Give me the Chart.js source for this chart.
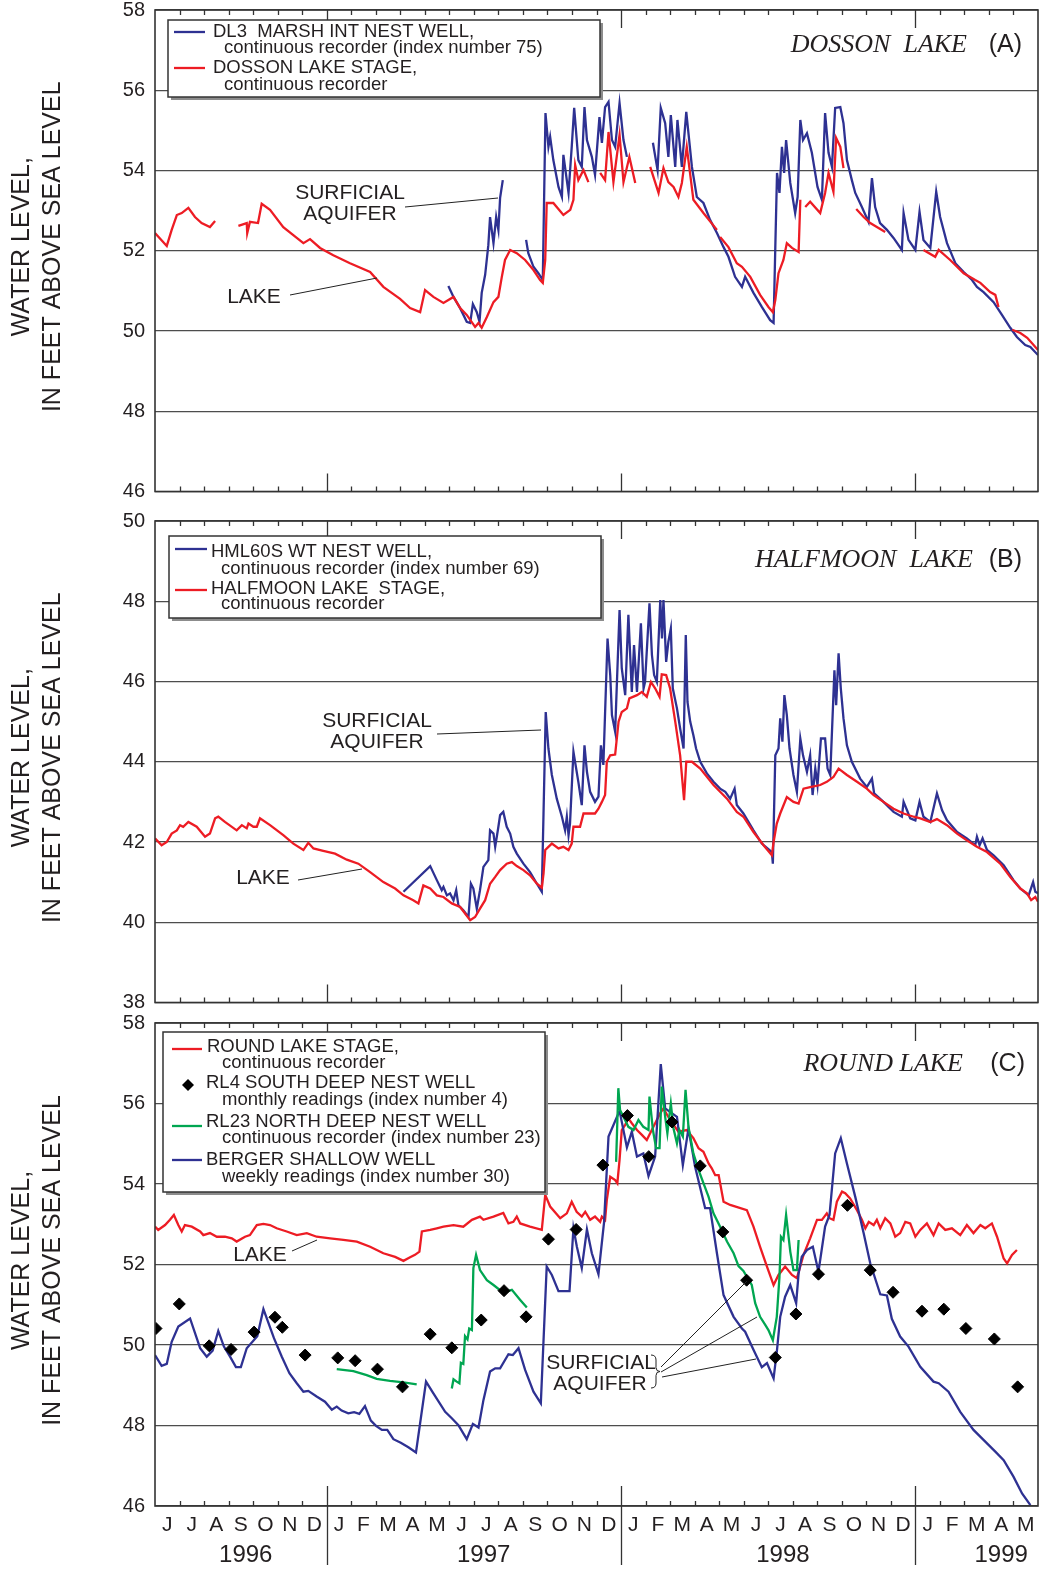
<!DOCTYPE html>
<html>
<head>
<meta charset="utf-8">
<script src="https://cdn.jsdelivr.net/npm/chart.js@4.4.1/dist/chart.umd.min.js"></script>
<style>
html,body{margin:0;padding:0;background:#fff;}
#wrap{position:relative;width:1042px;height:1570px;overflow:hidden;}
#wrap canvas{position:absolute;left:0;}
</style>
</head>
<body>
<div id="wrap">
  <canvas id="cA" width="1042" height="510" style="top:0px"></canvas>
  <canvas id="cB" width="1042" height="520" style="top:500px"></canvas>
  <canvas id="cC" width="1042" height="565" style="top:1005px"></canvas>
</div>
<script>
// ---------------- DATA (x = months since 1 June 1996, y = feet above sea level) ----------------
const monthLetters = ['J','J','A','S','O','N','D','J','F','M','A','M','J','J','A','S','O','N','D','J','F','M','A','M','J','J','A','S','O','N','D','J','F','M','A','M'];
const yearLabels = ['1996','1997','1998','1999'];
const yearLabelPos = [3.7, 13.4, 25.6, 34.5];
const yearBoundaries = [7, 19, 31];

// Panel A - Dosson Lake
const dossonLake = [
[0,52.44],[0.48,52.12],[0.68,52.52],[0.89,52.89],[1.09,52.94],[1.36,53.07],[1.63,52.84],[1.90,52.69],[2.24,52.59],[2.45,52.74],null,
[3.40,52.62],[3.74,52.69],[3.76,52.44],[3.87,52.72],[4.20,52.69],[4.35,53.17],[4.69,53.02],[5.23,52.59],[5.78,52.32],[6.05,52.19],[6.32,52.29],[6.73,52.07],[7.27,51.89],[7.95,51.69],[8.77,51.47],[9.31,51.10],[9.99,50.80],[10.40,50.57],[10.81,50.47],[11.01,51.02],[11.35,50.85],[11.76,50.70],[12.17,50.85],[12.44,50.57],[12.71,50.40],[13.05,50.10],[13.19,50.20],[13.32,50.08],[13.53,50.35],[13.80,50.72],[14.00,50.85],[14.14,51.35],[14.27,51.77],[14.48,52.02],[14.75,51.94],[15.09,51.77],[15.43,51.52],[15.70,51.27],[15.81,51.20],[15.91,51.77],[15.97,53.19],[16.24,53.19],[16.65,52.89],[16.93,53.02],[17.06,53.27],[17.13,54.14],[17.26,53.76],[17.47,54.01],[17.67,53.71],null,
[18.15,53.94],[18.35,53.76],[18.49,54.96],[18.69,53.71],[18.94,54.89],[19.10,53.71],[19.34,54.34],[19.58,53.69],null,
[20.19,54.09],[20.53,53.44],[20.73,54.06],[20.93,53.71],[21.14,53.59],[21.34,53.34],[21.48,53.69],[21.68,54.59],[21.95,53.27],[22.36,52.94],[22.91,52.52],null,
[23.04,52.34],[23.38,52.09],[23.72,51.69],[23.93,51.60],[24.27,51.35],[24.67,50.90],[25.01,50.60],[25.19,50.47],[25.29,50.77],[25.42,51.44],[25.62,51.77],[25.76,52.19],[25.97,52.07],[26.24,51.97],[26.31,53.27],null,
[26.51,53.09],[26.71,53.22],[27.12,52.94],[27.32,53.44],[27.46,53.94],[27.66,53.47],[27.77,54.81],[27.94,54.59],[28.07,54.06],null,
[28.59,53.04],[28.89,52.84],[29.16,52.69],[29.43,52.59],[29.77,52.47],null,
[31.33,52.02],[31.81,51.85],[31.95,52.02],[32.42,51.77],[32.97,51.44],[33.44,51.27],[33.65,51.20],[34.05,50.97],[34.26,50.90],[34.39,50.60],null,
[34.95,50.03],[35.28,49.95],[35.56,49.83],[36.0,49.53]
];
const dossonWell = [
[11.96,51.12],[12.17,50.85],[12.44,50.57],[12.71,50.23],[12.85,50.20],[12.96,50.67],[13.12,50.47],[13.23,50.23],[13.32,50.95],[13.46,51.40],[13.59,52.14],[13.66,52.84],[13.80,52.19],[13.91,52.84],[14.00,52.52],[14.07,53.32],[14.18,53.76],null,
[15.13,52.27],[15.22,51.94],[15.43,51.60],[15.63,51.44],[15.81,51.27],[15.92,55.43],[16.04,54.59],[16.11,54.84],[16.24,54.26],[16.45,53.59],[16.59,53.34],[16.65,54.39],[16.86,53.44],[16.99,54.59],[17.09,55.56],[17.26,54.26],[17.40,54.09],[17.51,55.58],[17.61,54.76],[17.81,54.34],[17.94,53.89],[18.12,55.33],[18.22,54.69],[18.35,55.58],[18.49,55.71],[18.63,54.76],[18.76,54.59],[18.94,55.68],[19.10,54.76],[19.24,54.34],null,
[20.30,54.69],[20.49,54.01],[20.62,55.56],[20.80,55.18],[20.93,54.34],[21.03,55.38],[21.21,54.09],[21.30,55.26],[21.48,54.09],[21.66,55.46],[21.89,54.09],[22.09,53.34],[22.36,53.19],[22.63,52.77],[22.91,52.44],[23.18,52.09],[23.38,51.85],[23.65,51.35],[23.93,51.10],[24.06,51.35],[24.40,50.95],[24.74,50.60],[25.08,50.27],[25.22,50.20],[25.29,52.09],[25.36,53.94],[25.46,53.44],[25.56,54.59],[25.65,53.94],[25.73,54.76],[25.90,53.69],[26.10,52.94],[26.20,53.34],[26.31,55.26],[26.42,54.76],[26.58,54.93],[26.78,54.44],[27.01,53.59],[27.19,53.27],[27.32,55.43],[27.46,54.44],[27.60,54.09],[27.73,55.56],[27.94,55.58],[28.07,55.18],[28.21,54.26],[28.41,53.76],[28.55,53.44],[28.82,53.09],[29.09,52.72],[29.23,53.81],[29.36,53.09],[29.56,52.69],[29.84,52.52],[30.11,52.32],[30.45,52.02],[30.52,52.94],[30.72,52.27],[31.00,52.02],[31.17,52.97],[31.33,52.27],[31.61,52.07],[31.85,53.47],[32.01,52.84],[32.29,52.19],[32.63,51.69],[32.97,51.47],[33.31,51.27],[33.51,51.10],[33.78,50.97],[34.19,50.72],[34.53,50.40],[34.87,50.08],[35.14,49.85],[35.48,49.65],[35.69,49.60],[36.0,49.40]
];

// Panel B - Halfmoon Lake
const halfmoonLake = [
[0,42.09],[0.27,41.92],[0.48,42.00],[0.68,42.21],[0.89,42.29],[1.02,42.42],[1.15,42.38],[1.36,42.50],[1.70,42.38],[2.04,42.13],[2.24,42.21],[2.45,42.59],[2.58,42.63],[2.85,42.50],[3.33,42.29],[3.54,42.42],[3.74,42.34],[3.81,42.46],[4.01,42.38],[4.15,42.38],[4.28,42.59],[4.69,42.42],[5.23,42.17],[5.64,41.96],[6.05,41.80],[6.25,41.98],[6.46,41.84],[6.86,41.78],[7.34,41.71],[7.82,41.56],[8.29,41.46],[8.77,41.25],[9.31,41.00],[9.79,40.84],[10.13,40.67],[10.53,40.55],[10.74,40.47],[10.94,40.92],[11.22,40.84],[11.49,40.67],[11.76,40.63],[12.10,40.47],[12.44,40.38],[12.85,40.05],[13.05,40.13],[13.25,40.34],[13.46,40.55],[13.66,40.96],[13.87,41.13],[14.07,41.30],[14.34,41.46],[14.55,41.50],[14.75,41.40],[15.02,41.30],[15.29,41.17],[15.57,40.96],[15.77,40.86],[15.84,41.21],[15.91,41.80],[16.04,41.88],[16.18,41.96],[16.45,41.84],[16.65,41.88],[16.86,41.80],[16.99,41.96],[17.06,42.38],[17.33,42.38],[17.47,42.71],[17.94,42.71],[18.08,42.83],[18.22,43.00],[18.35,43.17],[18.42,44.00],[18.56,44.16],[18.76,44.18],[18.90,45.00],[19.03,45.24],[19.24,45.33],[19.34,45.58],[19.65,45.66],[19.85,45.74],[20.05,45.62],[20.22,45.99],[20.39,45.83],[20.57,45.62],[20.66,46.18],[20.84,46.16],[21.00,45.83],[21.21,45.00],[21.41,44.16],[21.57,43.04],[21.66,44.00],[21.89,44.00],[22.23,43.83],[22.77,43.42],[23.32,43.08],[23.72,42.75],[23.99,42.63],[24.40,42.25],[24.81,41.92],[25.15,41.67],[25.22,42.00],[25.35,42.46],[25.49,42.71],[25.76,43.12],[26.03,43.00],[26.24,42.96],[26.44,43.33],[26.71,43.37],[27.12,43.42],[27.39,43.50],[27.66,43.62],[27.87,43.83],[28.21,43.67],[28.62,43.50],[29.02,43.33],[29.30,43.17],[29.70,43.00],[30.11,42.83],[30.52,42.71],[30.93,42.63],[31.20,42.59],[31.61,42.50],[31.88,42.57],[32.29,42.42],[32.70,42.21],[33.10,42.04],[33.51,41.88],[33.92,41.75],[34.46,41.46],[34.87,41.13],[35.28,40.84],[35.55,40.72],[35.72,40.55],[35.89,40.63],[36.0,40.51]
];
const halfmoonWell = [
[10.13,40.76],[11.22,41.40],[11.49,41.05],[11.69,40.80],[11.76,40.88],[11.90,40.67],[12.03,40.72],[12.17,40.55],[12.28,40.80],[12.37,40.42],[12.57,40.30],[12.78,40.13],[12.88,40.96],[12.98,40.84],[13.12,40.34],[13.25,40.80],[13.39,41.38],[13.59,41.55],[13.66,42.29],[13.80,42.21],[13.87,41.88],[14.00,42.38],[14.07,42.67],[14.20,42.75],[14.34,42.38],[14.48,42.21],[14.61,41.88],[14.75,41.71],[15.02,41.46],[15.29,41.25],[15.57,40.96],[15.77,40.76],[15.84,42.71],[15.93,45.24],[16.04,44.33],[16.18,43.67],[16.38,43.08],[16.59,42.63],[16.72,42.29],[16.79,42.63],[16.86,42.17],[16.92,42.46],[17.06,44.25],[17.26,43.50],[17.40,42.92],[17.51,44.41],[17.61,43.75],[17.74,43.25],[17.94,43.00],[18.08,43.13],[18.18,44.41],[18.28,43.92],[18.45,47.07],[18.56,46.16],[18.63,45.16],[18.76,44.75],[18.94,47.78],[19.03,46.33],[19.17,45.66],[19.30,47.66],[19.44,45.74],[19.53,46.91],[19.65,45.74],[19.81,47.45],[19.92,45.83],[19.98,45.99],[20.16,47.95],[20.26,46.66],[20.35,46.16],[20.46,45.99],[20.60,48.03],[20.67,47.07],[20.73,48.03],[20.84,46.49],[20.93,46.99],[21.03,47.32],[21.11,45.83],[21.28,45.33],[21.41,44.83],[21.55,44.33],[21.64,47.16],[21.71,45.49],[21.82,45.00],[21.95,44.66],[22.06,44.33],[22.23,44.00],[22.50,43.71],[22.77,43.50],[23.04,43.33],[23.25,43.25],[23.45,43.08],[23.63,43.33],[23.72,42.92],[23.99,42.71],[24.40,42.29],[24.74,41.96],[25.15,41.75],[25.19,41.46],[25.29,44.16],[25.42,44.33],[25.49,45.08],[25.58,44.50],[25.66,45.66],[25.76,45.16],[25.87,44.33],[26.03,43.67],[26.17,43.25],[26.31,44.58],[26.42,44.16],[26.58,43.75],[26.71,44.16],[26.81,43.17],[26.92,43.83],[27.01,43.42],[27.15,44.58],[27.32,44.58],[27.42,43.83],[27.53,43.67],[27.70,46.28],[27.77,45.41],[27.87,46.70],[27.96,45.83],[28.07,45.08],[28.21,44.41],[28.41,44.00],[28.75,43.58],[29.02,43.37],[29.23,43.58],[29.32,43.21],[29.70,43.00],[30.11,42.75],[30.45,42.63],[30.52,43.00],[30.66,42.79],[30.79,42.59],[31.00,42.54],[31.17,43.00],[31.33,42.63],[31.61,42.50],[31.88,43.21],[32.09,42.79],[32.29,42.54],[32.70,42.25],[33.10,42.09],[33.44,41.92],[33.51,42.13],[33.62,41.92],[33.74,42.09],[33.92,41.80],[34.19,41.67],[34.60,41.42],[35.00,41.05],[35.28,40.84],[35.62,40.67],[35.80,41.00],[35.89,40.76],[36.0,40.72]
];

// Panel C - Round Lake
const roundLake = [
[0,52.94],[0.13,52.86],[0.41,52.98],[0.61,53.11],[0.77,53.23],[0.95,52.98],[1.09,52.82],[1.22,52.98],[1.50,52.94],[1.84,52.82],[1.97,52.73],[2.24,52.78],[2.52,52.69],[2.85,52.69],[3.13,52.65],[3.33,52.57],[3.67,52.69],[3.87,52.73],[4.15,52.98],[4.42,53.01],[4.69,52.98],[4.96,52.90],[5.37,52.82],[5.78,52.73],[6.19,52.78],[6.59,52.69],[7.14,52.65],[7.68,52.61],[8.23,52.57],[8.77,52.44],[9.31,52.28],[9.79,52.19],[10.13,52.09],[10.40,52.18],[10.60,52.24],[10.78,52.32],[10.88,52.82],[11.22,52.86],[11.49,52.90],[11.76,52.94],[12.17,52.98],[12.57,52.94],[12.92,53.11],[13.25,53.19],[13.39,53.11],[13.80,53.19],[14.20,53.28],[14.41,53.02],[14.61,53.06],[14.75,53.19],[14.89,53.02],[15.29,52.94],[15.77,52.86],[15.91,53.73],[16.11,53.44],[16.52,53.15],[16.79,53.27],[16.99,53.56],[17.19,53.31],[17.40,53.19],[17.54,53.31],[17.74,53.11],[17.94,53.19],[18.15,53.06],[18.22,53.19],[18.35,53.11],[18.42,53.60],[18.56,54.18],[18.76,54.10],[18.85,54.02],[18.94,54.60],[19.03,55.34],[19.17,55.47],[19.30,55.63],[19.44,55.51],[19.65,55.34],[19.85,55.22],[20.05,55.09],[20.32,55.42],[20.60,55.76],[20.73,55.88],[21.00,55.59],[21.34,55.30],[21.68,55.34],[21.95,55.14],[22.16,54.89],[22.36,54.80],[22.57,54.51],[22.70,54.39],[22.84,54.22],[22.98,54.22],[23.18,53.56],[23.45,53.48],[24.13,53.35],[24.40,52.94],[24.67,52.44],[24.95,51.95],[25.22,51.49],[25.42,51.74],[25.69,51.95],[25.97,51.74],[26.17,51.66],[26.44,52.24],[26.71,52.65],[26.99,53.11],[27.19,53.11],[27.39,53.27],[27.50,53.15],[27.66,53.11],[27.80,53.56],[28.01,53.81],[28.14,53.77],[28.34,53.64],[28.62,53.35],[28.82,53.11],[28.96,52.90],[29.10,53.06],[29.30,52.98],[29.43,53.11],[29.57,52.90],[29.77,53.15],[29.98,53.02],[30.18,52.69],[30.38,52.78],[30.59,53.06],[30.79,53.02],[31.00,52.69],[31.20,52.86],[31.47,53.02],[31.74,52.73],[31.95,53.02],[32.22,52.86],[32.49,52.90],[32.83,52.73],[33.10,52.98],[33.37,52.78],[33.65,52.98],[33.85,52.90],[34.12,53.02],[34.33,52.69],[34.60,52.15],[34.74,52.03],[34.94,52.24],[35.14,52.36]
];
const rl4South = [
[0.04,50.41],[0.99,51.02],[2.21,49.98],[3.10,49.89],[4.04,50.32],[4.89,50.69],[5.19,50.44],[6.12,49.75],[7.45,49.68],[8.16,49.61],[9.07,49.40],[10.09,48.96],[11.22,50.27],[12.10,49.93],[13.30,50.62],[14.23,51.35],[15.13,50.70],[16.04,52.63],[17.17,52.87],[18.26,54.47],[19.26,55.70],[20.13,54.68],[21.08,55.54],[22.23,54.45],[23.15,52.81],[24.12,51.61],[25.29,49.69],[26.13,50.77],[27.05,51.76],[28.23,53.47],[29.16,51.86],[30.09,51.31],[31.27,50.84],[32.16,50.89],[33.06,50.41],[34.22,50.15],[35.17,48.96]
];
const rl23North = [
[7.41,49.40],[8.09,49.35],[8.63,49.25],[9.04,49.16],[9.58,49.11],[10.13,49.07],[10.67,49.02],null,
[12.10,48.92],[12.17,49.15],[12.30,49.09],[12.41,49.05],[12.47,49.56],[12.57,49.53],[12.64,50.22],[12.74,50.14],[12.81,50.41],[12.92,50.37],[12.98,51.91],[13.09,52.24],[13.25,51.86],[13.53,51.61],[13.80,51.49],[14.20,51.30],[14.55,51.37],[14.89,51.12],[15.16,50.93],null,
[18.80,54.55],[18.89,56.38],[18.96,55.84],[19.10,55.67],[19.30,55.42],[19.51,55.34],[19.71,55.59],[19.91,55.42],[20.12,55.34],[20.16,56.17],[20.30,55.34],[20.43,54.89],[20.57,54.89],[20.66,56.42],[20.80,55.67],[20.89,55.26],[21.03,56.00],[21.14,55.38],[21.28,55.01],[21.38,55.34],[21.52,55.18],[21.63,56.34],[21.75,55.42],[21.95,54.76],[22.16,54.35],[22.36,54.02],[22.57,53.68],[22.77,53.27],[23.04,52.94],[23.32,52.57],[23.59,52.28],[23.79,51.96],[23.99,51.84],[24.33,51.49],[24.47,51.04],[24.67,50.70],[24.88,50.50],[25.01,50.37],[25.19,50.12],[25.35,50.70],[25.46,51.70],[25.52,52.69],[25.62,52.61],[25.73,53.23],[25.90,52.32],[26.03,51.86],[26.17,51.86],[26.24,52.61]
];
const bergerShallow = [
[0,49.75],[0.27,49.48],[0.48,49.53],[0.68,50.08],[0.95,50.46],[1.43,50.66],[1.84,49.92],[2.11,49.71],[2.35,49.86],[2.58,50.35],[2.81,49.96],[3.06,49.71],[3.30,49.45],[3.50,49.45],[3.74,49.92],[4.17,50.22],[4.42,50.89],[4.85,50.17],[5.17,49.71],[5.48,49.30],[5.78,49.05],[6.05,48.84],[6.25,48.86],[6.59,48.72],[6.93,48.59],[7.21,48.39],[7.41,48.47],[7.61,48.37],[7.88,48.30],[8.12,48.33],[8.33,48.29],[8.56,48.48],[8.80,48.12],[9.01,47.99],[9.25,47.89],[9.47,47.89],[9.72,47.66],[10.02,47.57],[10.33,47.46],[10.64,47.33],[11.05,49.09],[11.35,48.80],[11.83,48.34],[12.10,48.18],[12.37,48.01],[12.71,47.66],[12.96,48.04],[13.19,47.95],[13.39,48.63],[13.66,49.34],[13.87,49.42],[14.07,49.42],[14.41,49.77],[14.59,49.75],[14.82,49.92],[15.09,49.38],[15.43,48.84],[15.73,48.55],[15.97,51.95],[16.18,51.74],[16.45,51.34],[16.90,51.34],[17.06,52.90],[17.20,52.44],[17.40,51.91],[17.61,52.87],[17.81,52.28],[18.08,51.76],[18.31,53.06],[18.49,55.18],[18.94,55.82],[19.24,54.91],[19.44,55.30],[19.65,54.68],[19.91,54.76],[20.12,54.20],[20.39,54.68],[20.62,56.98],[20.80,55.88],[21.28,55.67],[21.52,54.47],[21.75,55.38],[22.02,54.43],[22.43,53.40],[22.63,53.40],[22.91,52.28],[23.18,51.24],[23.59,50.70],[23.93,50.41],[24.06,50.33],[24.40,49.88],[24.74,49.45],[24.95,49.55],[25.22,49.17],[25.36,49.88],[25.49,50.70],[25.69,51.20],[25.90,51.49],[26.14,51.04],[26.24,51.78],[26.37,52.19],[26.58,52.36],[26.82,52.44],[27.05,51.82],[27.32,52.94],[27.50,53.23],[27.73,54.76],[27.96,55.14],[28.21,54.51],[28.55,53.68],[28.89,52.78],[29.16,52.03],[29.57,51.26],[29.84,51.23],[30.04,50.65],[30.38,50.21],[30.72,49.96],[31.20,49.46],[31.74,49.09],[31.95,49.05],[32.35,48.84],[32.83,48.34],[33.37,47.89],[33.85,47.60],[34.26,47.35],[34.60,47.14],[35.00,46.73],[35.35,46.31],[35.69,46.02]
];

// ---------------- STYLE ----------------
const BLUE = '#2e3192', RED = '#ed1c24', GREEN = '#00a651', INK = '#231f20';
const SANS = "'Liberation Sans', Arial, sans-serif";
const SERIF = "'Liberation Serif', 'Times New Roman', serif";
Chart.defaults.font.family = SANS;
Chart.defaults.color = INK;
Chart.defaults.animation = false;

function xy(arr) {
  const out = []; let lx = 0;
  for (const p of arr) {
    if (p === null) out.push({x: lx + 0.001, y: null});
    else { out.push({x: p[0], y: p[1]}); lx = p[0]; }
  }
  return out;
}
function lineDs(label, arr, color, order) {
  return {label, data: xy(arr), borderColor: color, backgroundColor: color, borderWidth: 2.3,
    pointRadius: 0, pointHoverRadius: 0, tension: 0, spanGaps: false, fill: false, order};
}
function pointDs(label, arr, color, order) {
  return {label, data: xy(arr), showLine: false, pointStyle: 'rectRot', pointRadius: 6,
    pointBackgroundColor: color, pointBorderColor: color, borderColor: color, backgroundColor: color, order};
}

function decorPlugin(cfg) {
  return {
    id: 'decor',
    afterDatasetsDraw(chart) {
      const ctx = chart.ctx, a = chart.chartArea, xs = chart.scales.x;
      ctx.save();
      // month / year tick marks inside the frame
      ctx.strokeStyle = '#333'; ctx.lineWidth = 1.3;
      ctx.beginPath();
      for (let m = 1; m < 36; m++) {
        const px = Math.round(xs.getPixelForValue(m)) + 0.5;
        const big = yearBoundaries.includes(m);
        const len = big ? 18 : 5;
        ctx.moveTo(px, a.top); ctx.lineTo(px, a.top + len);
        if (big && cfg.extendYears) { ctx.moveTo(px, a.bottom - 20); ctx.lineTo(px, a.bottom + 59); }
        else { ctx.moveTo(px, a.bottom); ctx.lineTo(px, a.bottom - len); }
      }
      ctx.stroke();
      // legend box
      const L = cfg.legend;
      ctx.fillStyle = '#8c8c8c'; ctx.fillRect(L.x + 3, L.y + 3, L.w, L.h);
      ctx.fillStyle = '#fff'; ctx.fillRect(L.x, L.y, L.w, L.h);
      ctx.strokeStyle = '#333'; ctx.lineWidth = 1.5; ctx.strokeRect(L.x, L.y, L.w, L.h);
      ctx.textBaseline = 'middle'; ctx.textAlign = 'left';
      for (const it of L.items) {
        const ds = chart.data.datasets[it.ds];
        if (it.kind === 'line') {
          ctx.strokeStyle = ds.borderColor; ctx.lineWidth = 2.3;
          ctx.beginPath(); ctx.moveTo(it.sx1, it.sy); ctx.lineTo(it.sx2, it.sy); ctx.stroke();
        } else {
          const r = 6; ctx.fillStyle = ds.pointBackgroundColor;
          ctx.beginPath(); ctx.moveTo(it.sx, it.sy - r); ctx.lineTo(it.sx + r, it.sy);
          ctx.lineTo(it.sx, it.sy + r); ctx.lineTo(it.sx - r, it.sy); ctx.closePath(); ctx.fill();
        }
        ctx.fillStyle = INK; ctx.font = '18.5px ' + SANS;
        ctx.fillText(it.t1, it.t1x, it.t1y);
        ctx.fillText(it.t2, it.t2x, it.t2y);
      }
      // panel title
      const T = cfg.title;
      ctx.textBaseline = 'alphabetic'; ctx.textAlign = 'right'; ctx.fillStyle = INK;
      ctx.font = 'italic 26px ' + SERIF; ctx.fillText(T.name, T.nameRight, T.base);
      ctx.font = '25px ' + SANS; ctx.fillText(T.tag, T.tagRight, T.base);
      // annotations
      ctx.textAlign = 'center'; ctx.textBaseline = 'middle'; ctx.font = '21px ' + SANS;
      for (const n of cfg.notes) ctx.fillText(n.text, n.x, n.y);
      ctx.strokeStyle = '#222'; ctx.lineWidth = 1;
      ctx.beginPath();
      for (const l of cfg.leaders) { ctx.moveTo(l[0], l[1]); ctx.lineTo(l[2], l[3]); }
      if (cfg.brace) {
        const b = cfg.brace, mid = (b.y1 + b.y2) / 2;
        ctx.moveTo(b.x, b.y1); ctx.quadraticCurveTo(b.x + 5, b.y1, b.x + 5, b.y1 + 5);
        ctx.lineTo(b.x + 5, mid - 4); ctx.quadraticCurveTo(b.x + 5, mid, b.x + 9, mid);
        ctx.quadraticCurveTo(b.x + 5, mid, b.x + 5, mid + 4);
        ctx.lineTo(b.x + 5, b.y2 - 5); ctx.quadraticCurveTo(b.x + 5, b.y2, b.x, b.y2);
      }
      ctx.stroke();
      // frame
      ctx.strokeStyle = '#333'; ctx.lineWidth = 1.6;
      ctx.strokeRect(a.left, a.top, a.right - a.left, a.bottom - a.top);
      // y-axis title
      ctx.fillStyle = INK; ctx.font = '25px ' + SANS; ctx.textAlign = 'center'; ctx.textBaseline = 'middle';
      const cy = (a.top + a.bottom) / 2 - 4;
      ctx.save(); ctx.translate(22, cy); ctx.rotate(-Math.PI / 2); ctx.fillText('WATER LEVEL,', 0, 0); ctx.restore();
      ctx.save(); ctx.translate(53, cy); ctx.rotate(-Math.PI / 2); ctx.fillText('IN FEET ABOVE SEA LEVEL', 0, 0); ctx.restore();
      ctx.restore();
    }
  };
}

function yScale(min, max) {
  return {
    min, max,
    ticks: {stepSize: 2, padding: 10, font: {size: 20}, color: INK},
    grid: {color: '#4d4d4d', lineWidth: 1.3, drawTicks: false},
    border: {display: false},
    afterFit(s) { s.width = 155; s.paddingTop = 0; s.paddingBottom = 0; }
  };
}

function makeChart(id, datasets, yMin, yMax, padTop, padBottom, withAxis, cfg) {
  const scales = {
    x: {type: 'linear', min: 0, max: 36, display: withAxis,
        grid: {display: false, drawTicks: false}, border: {display: false},
        ticks: {autoSkip: false, maxRotation: 0, minRotation: 0, padding: 7, font: {size: 21}, color: INK,
                callback: (v, i) => monthLetters[i]},
        afterBuildTicks(s) { s.ticks = monthLetters.map((_, i) => ({value: i + 0.5})); },
        afterFit(s) { s.height = withAxis ? 30 : 0; s.paddingLeft = 0; s.paddingRight = 0; }},
    y: yScale(yMin, yMax)
  };
  if (withAxis) {
    scales.xYear = {type: 'linear', position: 'bottom', min: 0, max: 36, weight: 1,
        grid: {display: false, drawTicks: false}, border: {display: false},
        ticks: {autoSkip: false, maxRotation: 0, minRotation: 0, padding: 5, font: {size: 24}, color: INK,
                callback: (v, i) => yearLabels[i]},
        afterBuildTicks(s) { s.ticks = yearLabelPos.map(v => ({value: v})); },
        afterFit(s) { s.height = 34; s.paddingLeft = 0; s.paddingRight = 0; }};
  }
  return new Chart(document.getElementById(id), {
    type: 'line',
    data: {datasets},
    options: {
      responsive: false, animation: false, parsing: true,
      layout: {autoPadding: false, padding: {left: 0, right: 4, top: padTop, bottom: padBottom}},
      plugins: {legend: {display: false}, tooltip: {enabled: false}},
      events: [],
      scales
    },
    plugins: [decorPlugin(cfg)]
  });
}

// Panel A
makeChart('cA', [
  lineDs('DL3 MARSH INT NEST WELL', dossonWell, BLUE, 1),
  lineDs('DOSSON LAKE STAGE', dossonLake, RED, 0)
], 46, 58, 10, 18.5, false, {
  legend: {x: 168, y: 20, w: 432, h: 77, items: [
    {ds: 0, kind: 'line', sx1: 174, sx2: 205, sy: 32, t1: 'DL3  MARSH INT NEST WELL,', t1x: 213, t1y: 32, t2: 'continuous recorder (index number 75)', t2x: 224, t2y: 48},
    {ds: 1, kind: 'line', sx1: 174, sx2: 205, sy: 68, t1: 'DOSSON LAKE STAGE,', t1x: 213, t1y: 68, t2: 'continuous recorder', t2x: 224, t2y: 85}
  ]},
  title: {name: 'DOSSON  LAKE', nameRight: 967, tag: '(A)', tagRight: 1022, base: 52},
  notes: [{text: 'SURFICIAL', x: 350, y: 193}, {text: 'AQUIFER', x: 350, y: 214}, {text: 'LAKE', x: 254, y: 297}],
  leaders: [[405, 207, 498, 198], [290, 295, 377, 278]]
});

// Panel B
makeChart('cB', [
  lineDs('HML60S WT NEST WELL', halfmoonWell, BLUE, 1),
  lineDs('HALFMOON LAKE STAGE', halfmoonLake, RED, 0)
], 38, 50, 21, 17.5, false, {
  legend: {x: 169, y: 36, w: 432, h: 82, items: [
    {ds: 0, kind: 'line', sx1: 175, sx2: 207, sy: 49, t1: 'HML60S WT NEST WELL,', t1x: 211, t1y: 52, t2: 'continuous recorder (index number 69)', t2x: 221, t2y: 69},
    {ds: 1, kind: 'line', sx1: 175, sx2: 207, sy: 90, t1: 'HALFMOON LAKE  STAGE,', t1x: 211, t1y: 89, t2: 'continuous recorder', t2x: 221, t2y: 104}
  ]},
  title: {name: 'HALFMOON  LAKE', nameRight: 973, tag: '(B)', tagRight: 1022, base: 67},
  notes: [{text: 'SURFICIAL', x: 377, y: 221}, {text: 'AQUIFER', x: 377, y: 242}, {text: 'LAKE', x: 263, y: 378}],
  leaders: [[437, 234, 541, 230], [298, 380, 362, 369]]
});

// Panel C
makeChart('cC', [
  pointDs('RL4 SOUTH DEEP NEST WELL', rl4South, '#000', 0),
  lineDs('RL23 NORTH DEEP NEST WELL', rl23North, GREEN, 1),
  lineDs('BERGER SHALLOW WELL', bergerShallow, BLUE, 2),
  lineDs('ROUND LAKE STAGE', roundLake, RED, 3)
], 46, 58, 18, 0, true, {
  extendYears: true,
  legend: {x: 163, y: 27, w: 382, h: 160, items: [
    {ds: 3, kind: 'line', sx1: 172, sx2: 202, sy: 44, t1: 'ROUND LAKE STAGE,', t1x: 207, t1y: 42, t2: 'continuous recorder', t2x: 222, t2y: 58},
    {ds: 0, kind: 'diamond', sx: 188, sy: 80, t1: 'RL4 SOUTH DEEP NEST WELL', t1x: 206, t1y: 78, t2: 'monthly readings (index number 4)', t2x: 222, t2y: 95},
    {ds: 1, kind: 'line', sx1: 172, sx2: 202, sy: 121, t1: 'RL23 NORTH DEEP NEST WELL', t1x: 206, t1y: 117, t2: 'continuous recorder (index number 23)', t2x: 222, t2y: 133},
    {ds: 2, kind: 'line', sx1: 172, sx2: 202, sy: 155, t1: 'BERGER SHALLOW WELL', t1x: 206, t1y: 155, t2: 'weekly readings (index number 30)', t2x: 222, t2y: 172}
  ]},
  title: {name: 'ROUND LAKE', nameRight: 963, tag: '(C)', tagRight: 1025, base: 66},
  notes: [{text: 'LAKE', x: 260, y: 250}, {text: 'SURFICIAL', x: 601, y: 358}, {text: 'AQUIFER', x: 600, y: 379}],
  leaders: [[292, 246, 317, 235], [661, 362, 747, 276], [661, 367, 757, 312], [662, 372, 756, 354]],
  brace: {x: 651, y1: 350, y2: 383}
});
</script>
</body>
</html>
